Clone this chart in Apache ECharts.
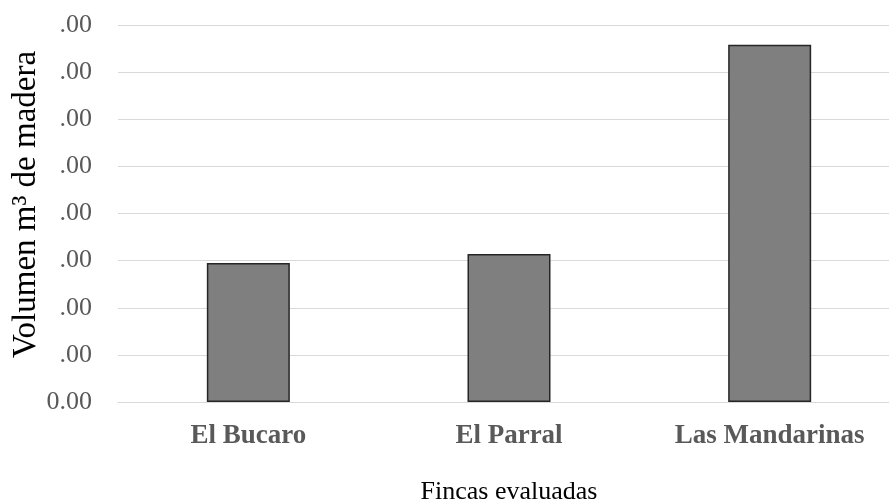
<!DOCTYPE html>
<html>
<head>
<meta charset="utf-8">
<script src="https://cdn.jsdelivr.net/npm/echarts@6/dist/echarts.min.js"></script>
<style>
  html, body { margin: 0; padding: 0; background: #fff; }
  #chart { width: 889px; height: 503px; }
</style>
</head>
<body>
<div id="chart"></div>
<script>
// Timber volume per evaluated farm
const fincas = ['El Bucaro', 'El Parral', 'Las Mandarinas'];
const volumen = [2.95, 3.14, 7.58];
const yMin = 0;
const yMax = 8;
const yStep = 1;

const serif = '"Liberation Serif", "Times New Roman", serif';

const chart = echarts.init(document.getElementById('chart'), null, { renderer: 'canvas' });

chart.setOption({
  backgroundColor: '#ffffff',
  animation: false,
  grid: { left: 118, top: 25, width: 782, height: 377, outerBoundsMode: 'none' },
  xAxis: {
    type: 'category',
    data: fincas,
    name: 'Fincas evaluadas',
    nameLocation: 'middle',
    nameGap: 77,
    nameTextStyle: { fontFamily: serif, fontSize: 26, color: '#000000' },
    axisLine: { lineStyle: { color: '#d9d9d9', width: 1 } },
    axisTick: { show: false },
    axisLabel: {
      margin: 21,
      fontFamily: serif,
      fontWeight: 'bold',
      fontSize: 27,
      color: '#595959'
    }
  },
  yAxis: {
    type: 'value',
    min: yMin,
    max: yMax,
    interval: yStep,
    axisLine: { show: false },
    axisTick: { show: false },
    splitLine: { lineStyle: { color: '#d9d9d9', width: 1 } },
    axisLabel: {
      margin: 26,
      fontFamily: serif,
      fontSize: 26,
      color: '#595959',
      formatter: v => v.toFixed(2)
    }
  },
  graphic: [{
    // white panel behind the vertical axis title, lying over the tick labels
    type: 'rect',
    z: 100,
    shape: { x: 0, y: 8, width: 60, height: 374 },
    style: { fill: '#ffffff' }
  }, {
    type: 'text',
    x: 10,
    y: 358,
    rotation: Math.PI / 2,
    z: 101,
    style: {
      text: 'Volumen m\u00b3 de madera',
      font: '33px ' + serif,
      fill: '#000000',
      align: 'left',
      verticalAlign: 'top'
    }
  }],
  series: [{
    type: 'bar',
    data: volumen,
    barWidth: 83,
    itemStyle: {
      color: '#7f7f7f',
      borderColor: '#262626',
      borderWidth: 1.5
    }
  }]
});
</script>
</body>
</html>
